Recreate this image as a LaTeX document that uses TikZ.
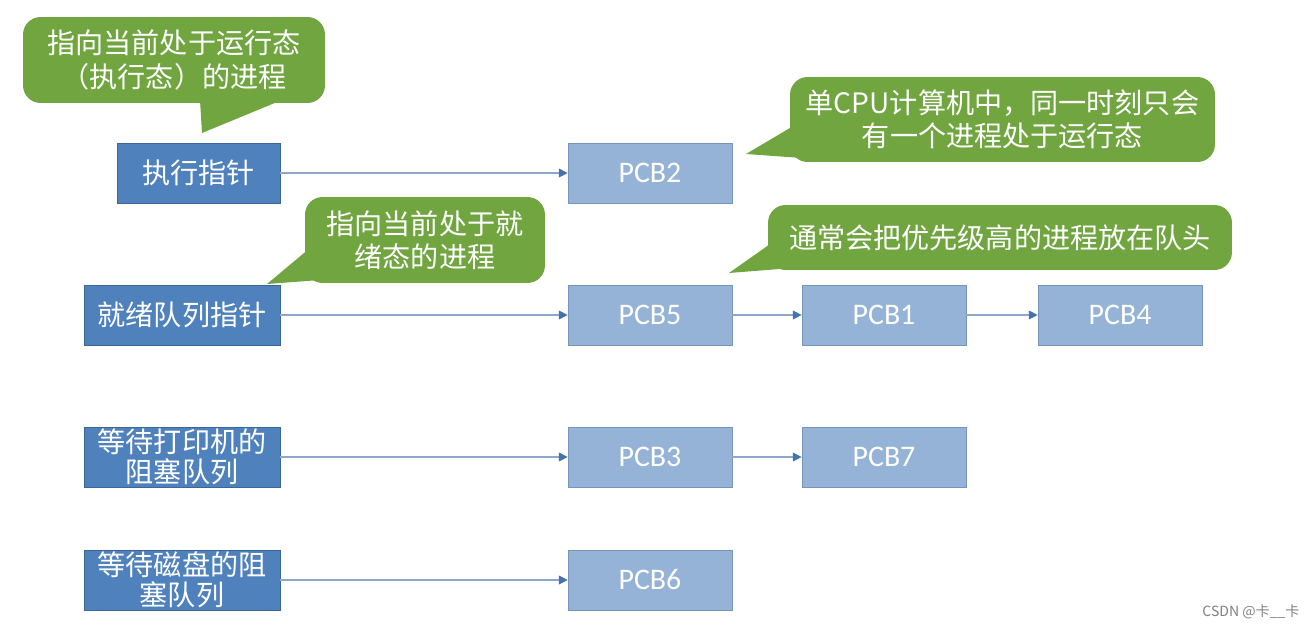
\documentclass[tikz,border=0pt]{standalone}
\usepackage{fontspec}
\setmainfont{Carlito}
\newfontfamily\cjk{Noto Sans CJK SC}
\usetikzlibrary{arrows.meta}
\definecolor{ptrblue}{RGB}{79,129,189}
\definecolor{ptredge}{RGB}{60,102,152}
\definecolor{pcbblue}{RGB}{149,179,215}
\definecolor{pcbedge}{RGB}{118,148,188}
\definecolor{notegreen}{RGB}{112,165,64}
\definecolor{linkgray}{RGB}{142,166,200}
\definecolor{tipblue}{RGB}{68,114,172}
\begin{document}
\begin{tikzpicture}[x=0.02cm,y=-0.02cm,
ptr/.style={draw=ptredge,fill=ptrblue,text=white,inner sep=0pt,align=center,
  minimum width=3.92cm,minimum height=1.2cm,font=\cjk\fontsize{16}{17}\selectfont},
pcb/.style={draw=pcbedge,fill=pcbblue,text=white,inner sep=0pt,
  minimum width=3.28cm,minimum height=1.2cm,font=\fontsize{17}{20}\selectfont},
note/.style={fill=notegreen,rounded corners=10pt,text=white,align=center,inner sep=0pt,
  font=\cjk\fontsize{16}{19}\selectfont},
link/.style={draw=linkgray,line width=0.7pt,-{Triangle[length=5pt,width=5pt,color=tipblue]}}]
\useasboundingbox (0,0) rectangle (1312,629);
% pointers
\node[ptr,minimum width=3.26cm] (run) at (198.5,173) {执行指针};
\node[ptr] (ready) at (182,315) {就绪队列指针};
\node[ptr] (print) at (182,457) {等待打印机的\\阻塞队列};
\node[ptr] (disk) at (182,580) {等待磁盘的阻\\塞队列};
% PCBs
\node[pcb] (p2) at (650,173) {PCB2};
\node[pcb] (p5) at (650,315) {PCB5};
\node[pcb] (p1) at (884,315) {PCB1};
\node[pcb] (p4) at (1120,315) {PCB4};
\node[pcb] (p3) at (650,457) {PCB3};
\node[pcb] (p7) at (884,457) {PCB7};
\node[pcb] (p6) at (650,580) {PCB6};
% links
\draw[link] (run) -- (p2);
\draw[link] (ready) -- (p5);
\draw[link] (p5) -- (p1);
\draw[link] (p1) -- (p4);
\draw[link] (print) -- (p3);
\draw[link] (p3) -- (p7);
\draw[link] (disk) -- (p6);
% callouts
\fill[notegreen] (200,100) -- (202,133) -- (282,100) -- cycle;
\node[note,minimum width=6.04cm,minimum height=1.72cm] (n1) at (174,60)
  {指向当前处于运行态\\（执行态）的进程};
\fill[notegreen] (795,125) -- (746,154) -- (802,158) -- cycle;
\node[note,minimum width=8.5cm,minimum height=1.7cm] (n2) at (1002.5,119.5)
  {单CPU计算机中，同一时刻只会\\有一个进程处于运行态};
\fill[notegreen] (310,248) -- (267,284) -- (320,280) -- cycle;
\node[note,minimum width=4.8cm,minimum height=1.72cm] (n3) at (425,240)
  {指向当前处于就\\绪态的进程};
\fill[notegreen] (773,242) -- (729,273) -- (792,268) -- cycle;
\node[note,minimum width=9.28cm,minimum height=1.3cm] (n4) at (1000,237.5)
  {通常会把优先级高的进程放在队头};
% watermark
\node[text=gray,font=\cjk\fontsize{8}{9}\selectfont] (mark) at (1251,612) {CSDN @卡\_\_卡};
\end{tikzpicture}
\end{document}
